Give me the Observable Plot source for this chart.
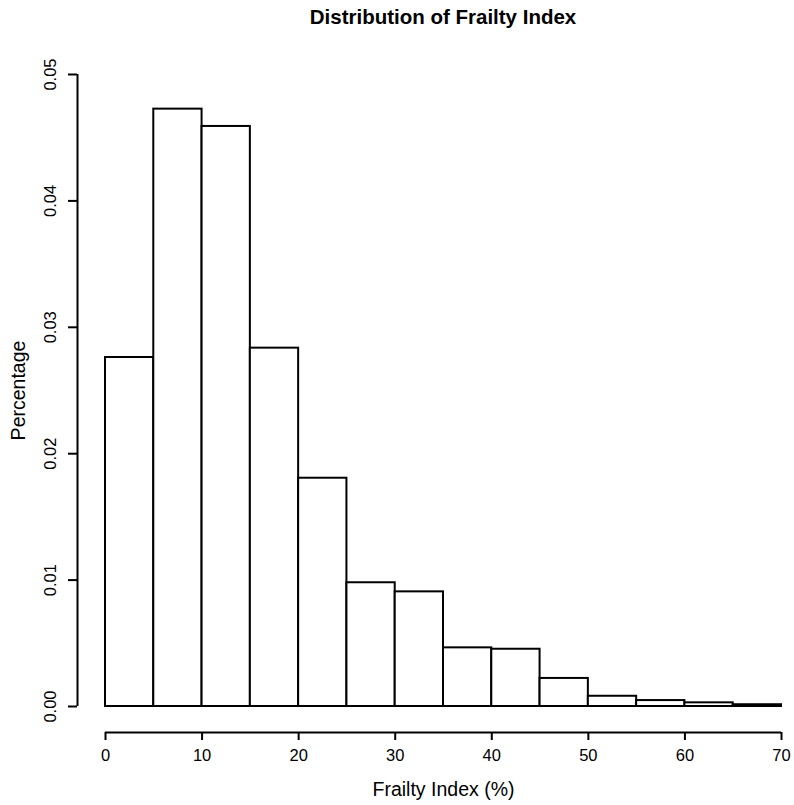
<!DOCTYPE html>
<html>
<head>
<meta charset="utf-8">
<script src="https://cdn.jsdelivr.net/npm/d3@7"></script>
<script src="https://cdn.jsdelivr.net/npm/@observablehq/plot@0.6"></script>
<style>
  html, body { margin: 0; padding: 0; background: #fff; }
  #wrap { position: relative; width: 794px; height: 805px; font-family: "Liberation Sans", Arial, sans-serif; }
  #title { position: absolute; left: 105px; width: 676px; top: 7px; line-height: 20px; text-align: center;
           font-weight: bold; font-size: 20.5px; color: #000; }
  #chart { position: absolute; left: 0; top: 36px; }
</style>
</head>
<body>
<div id="wrap">
  <div id="title">Distribution of Frailty Index</div>
  <div id="chart"></div>
</div>
<script>
const titleText = "Distribution of Frailty Index";
const xLabel = "Frailty Index (%)";
const yLabel = "Percentage";

// histogram bins (lower edges, width 5) and densities
const binStart = [0, 5, 10, 15, 20, 25, 30, 35, 40, 45, 50, 55, 60, 65];
const binWidth = 5;
const density = [0.02761, 0.04726, 0.04589, 0.02835, 0.01806, 0.00979, 0.00907,
                 0.00464, 0.00453, 0.00222, 0.00081, 0.00047, 0.00029, 0.00014];

const xTicks = [0, 10, 20, 30, 40, 50, 60, 70];
const yTicks = [0.00, 0.01, 0.02, 0.03, 0.04, 0.05];
const yTickLabels = ["0.00", "0.01", "0.02", "0.03", "0.04", "0.05"];

const bins = binStart.map((s, i) => ({x1: s, x2: s + binWidth, y: density[i]}));
const xAxisLine = [{y: yTicks[0], x1: xTicks[0], x2: xTicks[xTicks.length - 1]}];
const yAxisLine = [{x: xTicks[0], y1: yTicks[0], y2: yTicks[yTicks.length - 1]}];

const font = "Liberation Sans, Arial, sans-serif";

const plot = Plot.plot({
  width: 794,
  height: 769,
  marginLeft: 105,
  marginRight: 13,
  marginTop: 38,
  marginBottom: 99,
  style: {fontFamily: font, fontSize: "16px", color: "#000", background: "#fff", overflow: "visible"},
  x: {domain: [xTicks[0], xTicks[xTicks.length - 1]], axis: null},
  y: {domain: [yTicks[0], yTicks[yTicks.length - 1]], axis: null},
  marks: [
    Plot.rectY(bins, {x1: "x1", x2: "x2", y: "y", fill: "white", stroke: "black", strokeWidth: 2}),
    // x axis (offset below the plot region, R style)
    Plot.ruleY(xAxisLine, {y: "y", x1: "x1", x2: "x2", dy: 26, stroke: "black", strokeWidth: 2}),
    Plot.axisX({ticks: xTicks, tickSize: 8, tickPadding: 9, dy: 26, fontSize: 16.5, label: null,
                tickFormat: d => String(d), stroke: "black", strokeWidth: 2}),
    // y axis
    Plot.ruleX(yAxisLine, {x: "x", y1: "y1", y2: "y2", dx: -28, stroke: "black", strokeWidth: 2}),
    Plot.axisY({ticks: yTicks, tickSize: 9, tickPadding: 13, dx: -28, tickRotate: -90, fontSize: 16.5, label: null,
                tickFormat: (d, i) => yTickLabels[i], stroke: "black", strokeWidth: 2}),
    // axis titles
    Plot.text([xLabel], {text: d => d, frameAnchor: "bottom", dy: 89, lineAnchor: "bottom", fontSize: 19.5}),
    Plot.text([yLabel], {text: d => d, frameAnchor: "left", dx: -81, rotate: -90, lineAnchor: "bottom", textAnchor: "middle", fontSize: 19.5})
  ]
});
document.getElementById("chart").appendChild(plot);
</script>
</body>
</html>
